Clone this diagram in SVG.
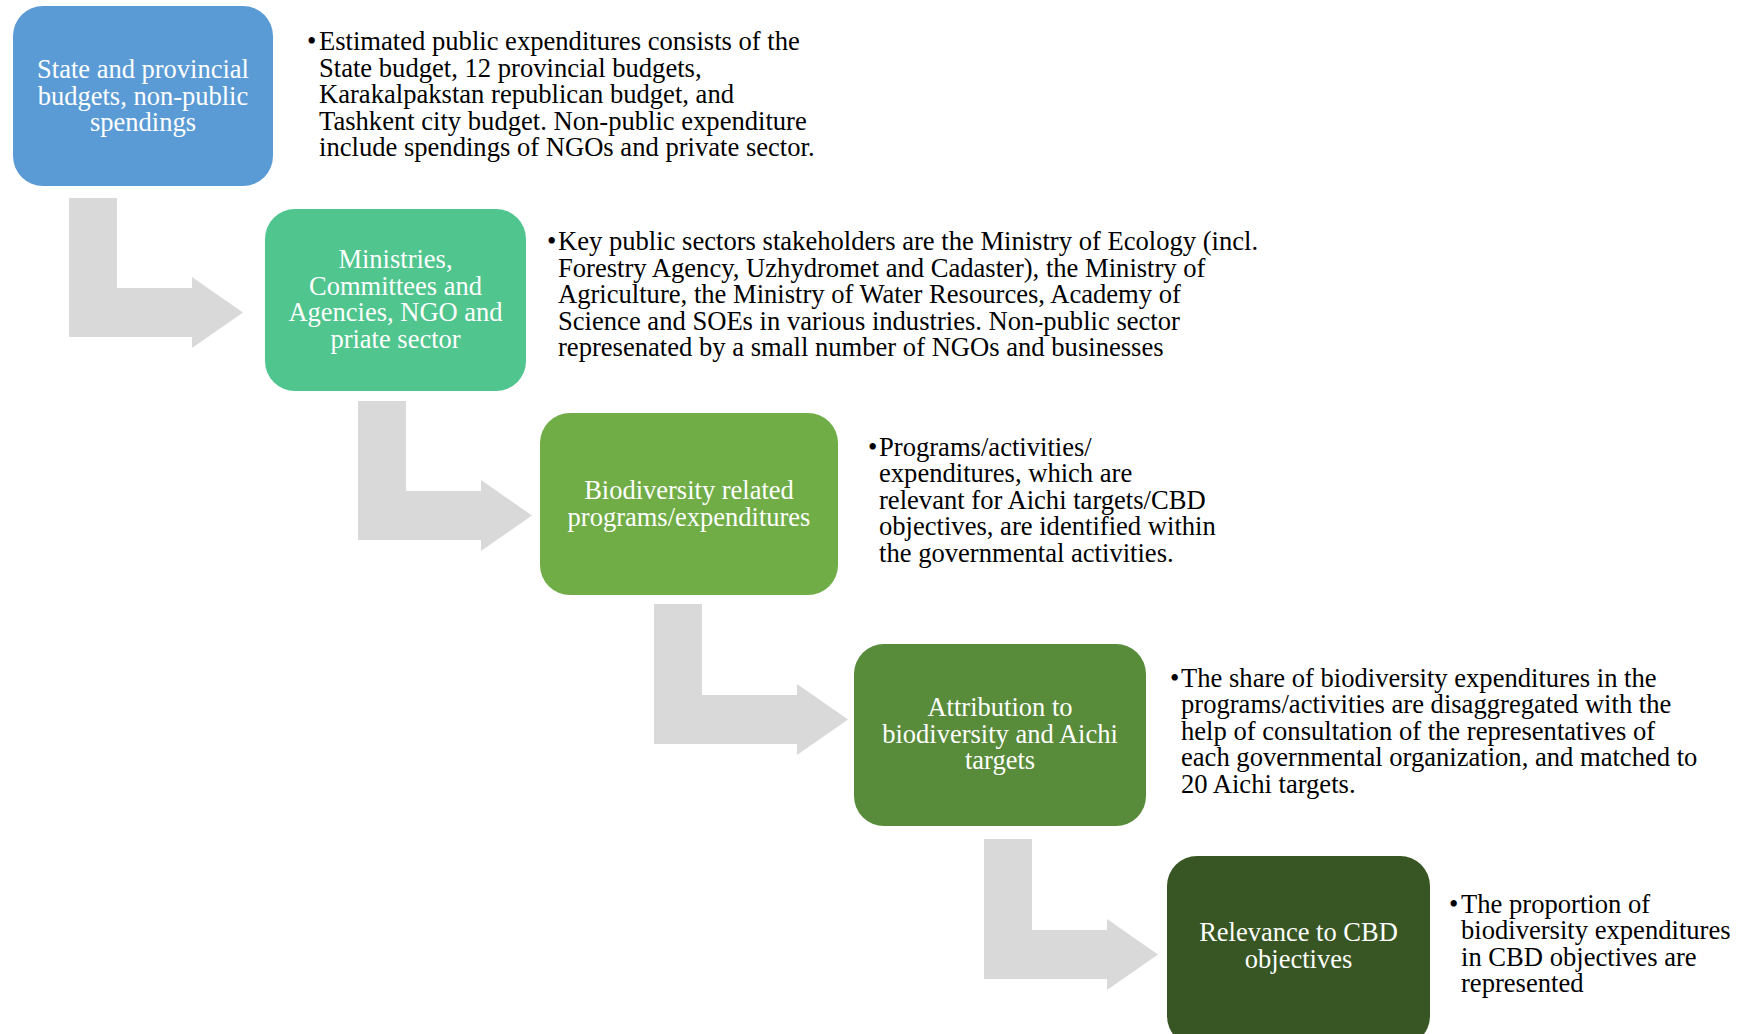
<svg xmlns="http://www.w3.org/2000/svg" width="1750" height="1034" viewBox="0 0 1750 1034">
<style>
.box{stroke:none}
.bt{font-family:"Liberation Serif","Times New Roman",serif;font-size:26.5px;fill:#ffffff;text-anchor:middle}
.dt{font-family:"Liberation Serif","Times New Roman",serif;font-size:26.6px;fill:#000000}
.arr{fill:#d9d9d9}
</style>
<rect width="1750" height="1034" fill="#ffffff"/>
<g id="connectors">
<path class="arr" d="M69,198 H117 V288 H192 V277 L243,312.5 L192,348 V337 H69 Z"/>
<path class="arr" d="M358,401 H406 V491 H481 V480 L532,515.5 L481,551 V540 H358 Z"/>
<path class="arr" d="M654,604 H702 V695 H797 V684 L848,719.5 L797,755 V744 H654 Z"/>
<path class="arr" d="M984,839 H1032 V930 H1107 V919 L1158,954.5 L1107,990 V979 H984 Z"/>
</g>
<g id="node1">
<rect class="box" x="13" y="6" width="260" height="180" rx="30" fill="#5b9bd5"/>
<text class="bt" x="143" y="78">State and provincial</text>
<text class="bt" x="143" y="104.5">budgets, non-public</text>
<text class="bt" x="143" y="131">spendings</text>
</g>
<g id="desc1">
<text class="dt" x="307" y="50">•</text>
<text class="dt" x="319" y="50">Estimated public expenditures consists of the</text>
<text class="dt" x="319" y="76.5">State budget, 12 provincial budgets,</text>
<text class="dt" x="319" y="103">Karakalpakstan republican budget, and</text>
<text class="dt" x="319" y="129.5">Tashkent city budget. Non-public expenditure</text>
<text class="dt" x="319" y="156">include spendings of NGOs and private sector.</text>
</g>
<g id="node2">
<rect class="box" x="265" y="209" width="261" height="182" rx="30" fill="#50c58e"/>
<text class="bt" x="395.5" y="268">Ministries,</text>
<text class="bt" x="395.5" y="294.5">Committees and</text>
<text class="bt" x="395.5" y="321">Agencies, NGO and</text>
<text class="bt" x="395.5" y="347.5">priate sector</text>
</g>
<g id="desc2">
<text class="dt" x="547" y="250">•</text>
<text class="dt" x="558" y="250">Key public sectors stakeholders are the Ministry of Ecology (incl.</text>
<text class="dt" x="558" y="276.5">Forestry Agency, Uzhydromet and Cadaster), the Ministry of</text>
<text class="dt" x="558" y="303">Agriculture, the Ministry of Water Resources, Academy of</text>
<text class="dt" x="558" y="329.5">Science and SOEs in various industries. Non-public sector</text>
<text class="dt" x="558" y="356">represenated by a small number of NGOs and businesses</text>
</g>
<g id="node3">
<rect class="box" x="540" y="413" width="298" height="182" rx="30" fill="#70ad47"/>
<text class="bt" x="689" y="499">Biodiversity related</text>
<text class="bt" x="689" y="525.5">programs/expenditures</text>
</g>
<g id="desc3">
<text class="dt" x="868" y="455.5">•</text>
<text class="dt" x="879" y="455.5">Programs/activities/</text>
<text class="dt" x="879" y="482">expenditures, which are</text>
<text class="dt" x="879" y="508.5">relevant for Aichi targets/CBD</text>
<text class="dt" x="879" y="535">objectives, are identified within</text>
<text class="dt" x="879" y="561.5">the governmental activities.</text>
</g>
<g id="node4">
<rect class="box" x="854" y="644" width="292" height="182" rx="30" fill="#588b3a"/>
<text class="bt" x="1000" y="716">Attribution to</text>
<text class="bt" x="1000" y="742.5">biodiversity and Aichi</text>
<text class="bt" x="1000" y="769">targets</text>
</g>
<g id="desc4">
<text class="dt" x="1170" y="686.5">•</text>
<text class="dt" x="1181" y="686.5">The share of biodiversity expenditures in the</text>
<text class="dt" x="1181" y="713">programs/activities are disaggregated with the</text>
<text class="dt" x="1181" y="739.5">help of consultation of the representatives of</text>
<text class="dt" x="1181" y="766">each governmental organization, and matched to</text>
<text class="dt" x="1181" y="792.5">20 Aichi targets.</text>
</g>
<g id="node5">
<rect class="box" x="1167" y="856" width="263" height="190" rx="30" fill="#375623"/>
<text class="bt" x="1298.5" y="941">Relevance to CBD</text>
<text class="bt" x="1298.5" y="967.5">objectives</text>
</g>
<g id="desc5">
<text class="dt" x="1449" y="912.5">•</text>
<text class="dt" x="1461" y="912.5">The proportion of</text>
<text class="dt" x="1461" y="939">biodiversity expenditures</text>
<text class="dt" x="1461" y="965.5">in CBD objectives are</text>
<text class="dt" x="1461" y="992">represented</text>
</g>
</svg>
